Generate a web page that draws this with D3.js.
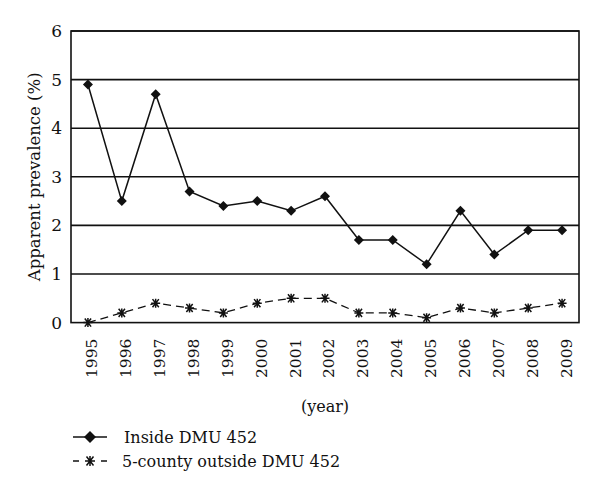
<!DOCTYPE html>
<html><head><meta charset="utf-8">
<script src="https://cdn.jsdelivr.net/npm/d3@7"></script>
<style>body{margin:0;background:#fff}</style>
</head><body><svg id="c" width="600" height="497"></svg>
<script>
const years = ["1995","1996","1997","1998","1999","2000","2001","2002","2003","2004","2005","2006","2007","2008","2009"];
const inside = [4.9,2.5,4.7,2.7,2.4,2.5,2.3,2.6,1.7,1.7,1.2,2.3,1.4,1.9,1.9];
const outside = [0,0.2,0.4,0.3,0.2,0.4,0.5,0.5,0.2,0.2,0.1,0.3,0.2,0.3,0.4];
const yTicks = [0,1,2,3,4,5,6];
const seriesNames = ["Inside DMU 452","5-county outside DMU 452"];

const FONT = "'DejaVu Serif',serif";
const svg = d3.select("#c");
const L=71,R=579,T=31,B=322.6;
const x = d3.scaleBand().domain(years).range([L,R]);
const y = d3.scaleLinear().domain([0,6]).range([B,T]);

svg.append("g").selectAll("line").data(yTicks.filter(d=>d>0)).join("line")
  .attr("x1",L).attr("x2",R).attr("y1",d=>y(d)).attr("y2",d=>y(d))
  .attr("stroke","#111").attr("stroke-width",1.6);
svg.append("rect").attr("x",L).attr("y",T).attr("width",R-L).attr("height",B-T)
  .attr("fill","none").attr("stroke","#111").attr("stroke-width",1.6);

const ya = svg.append("g").attr("transform",`translate(${L},0)`)
  .call(d3.axisLeft(y).tickValues(yTicks).tickSize(0).tickPadding(9).tickFormat(d3.format("d")));
ya.select(".domain").remove();
ya.attr("font-family",null);
ya.selectAll("text").style("font-family",FONT).style("font-size","17px").attr("fill","#111");

const xa = svg.append("g").attr("transform",`translate(0,${B})`)
  .call(d3.axisBottom(x).tickSize(0).tickPadding(0));
xa.select(".domain").remove();
xa.attr("font-family",null);
xa.selectAll("text").style("font-family",FONT).style("font-size","15.5px").attr("fill","#111").attr("text-anchor","end")
  .attr("transform","translate(4,16) rotate(-90)").attr("dy","0.35em").attr("y",0).attr("x",0);

svg.append("text").attr("transform",`translate(40,${(T+B)/2}) rotate(-90)`)
  .attr("text-anchor","middle").style("font-family",FONT).style("font-size","16.5px").attr("fill","#111").text("Apparent prevalence (%)");
svg.append("text").attr("x",(L+R)/2).attr("y",412).attr("text-anchor","middle")
  .style("font-family",FONT).style("font-size","16px").attr("fill","#111").text("(year)");

const cx = d=>x(d)+x.bandwidth()/2;
const line = d3.line().x((d,i)=>cx(years[i])).y(d=>y(d));
svg.append("path").datum(inside).attr("d",line).attr("fill","none").attr("stroke","#111").attr("stroke-width",1.5);
svg.append("path").datum(outside).attr("d",line).attr("fill","none").attr("stroke","#111").attr("stroke-width",1.3).attr("stroke-dasharray","8,5");

const diamond = (s)=>`M0,${-s}L${s},0L0,${s}L${-s},0Z`;
const star = (s)=>{const p=d3.path();p.moveTo(-s,0);p.lineTo(s,0);p.moveTo(-s*0.7,-s*0.9);p.lineTo(s*0.7,s*0.9);p.moveTo(-s*0.7,s*0.9);p.lineTo(s*0.7,-s*0.9);p.moveTo(0,-s);p.lineTo(0,s);return p.toString();};

svg.append("g").selectAll("path").data(inside).join("path")
  .attr("transform",(d,i)=>`translate(${cx(years[i])},${y(d)})`).attr("d",diamond(5)).attr("fill","#111");
svg.append("g").selectAll("path").data(outside).join("path")
  .attr("transform",(d,i)=>`translate(${cx(years[i])},${y(d)})`).attr("d",star(4.5)).attr("fill","none").attr("stroke","#111").attr("stroke-width",1.5);

const lg = svg.append("g");
lg.append("line").attr("x1",73).attr("x2",107).attr("y1",437).attr("y2",437).attr("stroke","#111").attr("stroke-width",1.5);
lg.append("path").attr("transform","translate(90,437)").attr("d",diamond(6)).attr("fill","#111");
lg.append("text").attr("x",124).attr("y",437).attr("dy","0.35em").style("font-family",FONT).style("font-size","16px").attr("fill","#111").text(seriesNames[0]);
lg.append("line").attr("x1",73).attr("x2",107).attr("y1",461).attr("y2",461).attr("stroke","#111").attr("stroke-width",1.3).attr("stroke-dasharray","6,22,6");
lg.append("path").attr("transform","translate(90,461)").attr("d",star(5)).attr("fill","none").attr("stroke","#111").attr("stroke-width",1.5);
lg.append("text").attr("x",122).attr("y",461).attr("dy","0.35em").style("font-family",FONT).style("font-size","16px").attr("fill","#111").text(seriesNames[1]);
</script></body></html>
